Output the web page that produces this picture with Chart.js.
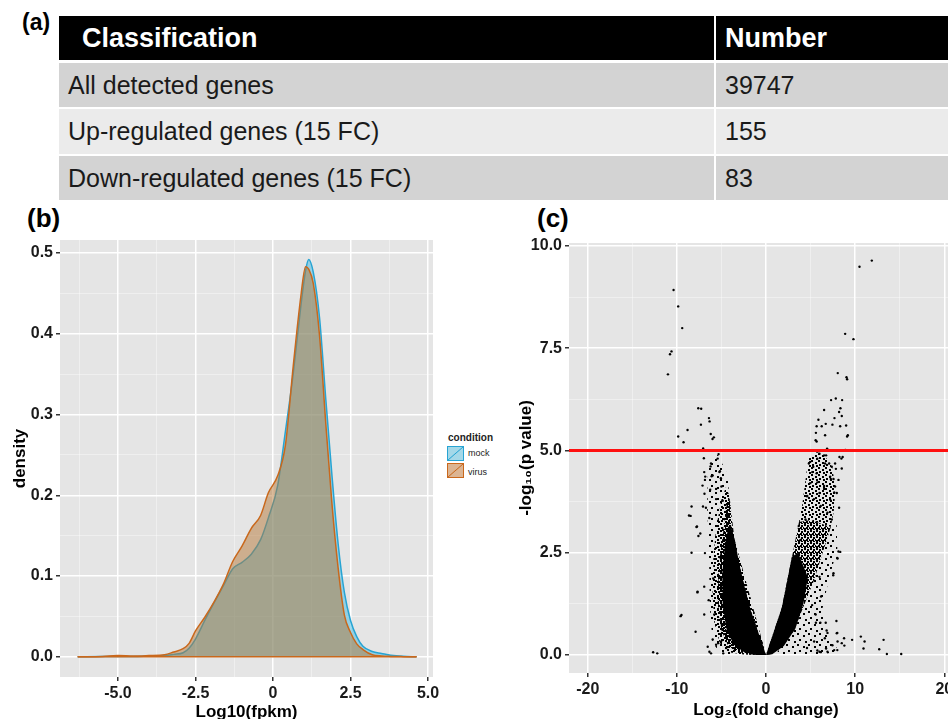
<!DOCTYPE html>
<html>
<head>
<meta charset="utf-8">
<script src="https://cdn.jsdelivr.net/npm/chart.js@4.4.1/dist/chart.umd.min.js"></script>
<style>
body { margin: 0; width: 948px; height: 719px; overflow: hidden; background: #fff; position: relative; font-family: "Liberation Sans", Arial, sans-serif; }
.abs { position: absolute; }
.panel-label { position: absolute; font-weight: bold; font-size: 26px; line-height: 26px; color: #000; }
.cell { position: absolute; box-sizing: border-box; display: flex; align-items: center; font-size: 25px; color: #1a1a1a; white-space: nowrap; }
.head { background: #000; color: #fff; font-weight: bold; font-size: 27px; }
.key { position: absolute; width: 17px; height: 15px; box-sizing: border-box; }
.legtxt { position: absolute; font-size: 9px; line-height: 10px; color: #222; }
</style>
</head>
<body>

<!-- (a) table -->
<div class="panel-label" style="left:22px;top:9px;font-size:23px;">(a)</div>
<div id="table"></div>

<!-- (b) density -->
<div class="panel-label" style="left:27px;top:205px;">(b)</div>
<canvas id="densityChart" class="abs" width="440" height="495" style="left:0;top:236px;"></canvas>
<div class="legtxt" style="left:448px;top:433px;font-weight:bold;font-size:10px;">condition</div>
<div class="key" style="left:447px;top:446px;border:1px solid #27a4d3;background:linear-gradient(to top left, transparent calc(50% - 0.8px), #27a4d3 50%, transparent calc(50% + 0.8px)), #a4d8e8;"></div>
<div class="legtxt" style="left:468px;top:448px;">mock</div>
<div class="key" style="left:447px;top:463px;border:1px solid #c9681c;background:linear-gradient(to top left, transparent calc(50% - 0.8px), #c9681c 50%, transparent calc(50% + 0.8px)), #dcb593;"></div>
<div class="legtxt" style="left:468px;top:467px;">virus</div>

<!-- (c) volcano -->
<div class="panel-label" style="left:537px;top:205px;">(c)</div>
<canvas id="volcanoChart" class="abs" width="458" height="495" style="left:510px;top:236px;"></canvas>

<script>
// ---- (a) table ----
const tableHeader = ["Classification", "Number"];
const tableRows = ["All detected genes", "Up-regulated genes (15 FC)", "Down-regulated genes (15 FC)"];
const tableNumbers = ["39747", "155", "83"];

// ---- (b) density of Log10(fpkm) ----
const densX = [-6.3, -5.5, -5, -4.5, -4, -3.5, -3.2, -2.9, -2.7, -2.5, -2.2, -1.9, -1.6, -1.3, -1.0, -0.7, -0.4, -0.15, 0.15, 0.4,
    0.65, 0.9, 1.05, 1.15, 1.3, 1.5, 1.7, 1.9, 2.1, 2.3, 2.5, 2.7, 2.9, 3.2, 3.5, 3.8, 4.2, 4.63];
const mockDensity = [0, 0.0003, 0.0005, 0.0005, 0.001, 0.0015, 0.003, 0.005, 0.011, 0.022, 0.045, 0.067, 0.088, 0.109, 0.117, 0.127, 0.145, 0.172, 0.212, 0.279,
    0.35, 0.435, 0.478, 0.492, 0.476, 0.42, 0.32, 0.225, 0.14, 0.08, 0.045, 0.025, 0.013, 0.0065, 0.0042, 0.002, 0.0006, 0];
const virusDensity = [0, 0.0005, 0.0015, 0.001, 0.0015, 0.0025, 0.006, 0.01, 0.017, 0.032, 0.049, 0.068, 0.09, 0.118, 0.137, 0.159, 0.175, 0.203, 0.224, 0.262,
    0.359, 0.447, 0.483, 0.48, 0.462, 0.398, 0.29, 0.19, 0.11, 0.052, 0.03, 0.016, 0.009, 0.0025, 0.001, 0.0005, 0.0002, 0];

// ---- (c) volcano: outlines of the crowded cloud (solid / dense / medium / sparse) + single genes ----
const leftCoreX = [0, -1.82, -2.77, -3.52, -3.9, -4.2, -4.6, -4.9, -4.85, -4.4, -3.6, -2.4, -1];
const leftCoreY = [0, 1.16, 1.99, 2.81, 3.13, 3.15, 2.7, 2.0, 1.2, 0.6, 0.25, 0.06, 0.01];
const leftDenseX = [0, -1.82, -2.77, -3.52, -3.85, -4.05, -4.4, -4.8, -5.3, -5.4, -5.0, -4.2, -2.5, -1];
const leftDenseY = [0, 1.16, 1.99, 2.81, 3.4, 3.8, 3.7, 3.0, 2.2, 1.3, 0.6, 0.2, 0.03, 0];
const leftMidX = [0, -3.9, -4.1, -4.5, -5.0, -5.6, -5.9, -6.0, -5.8, -5.2, -4.2, -2.5, -1];
const leftMidY = [0, 3.13, 3.9, 4.1, 3.8, 3.1, 2.4, 1.5, 0.8, 0.3, 0.07, 0.01, 0];
const leftSparseX = [0, -3.9, -4.3, -5.4, -6.5, -6.6, -6.4, -6.3, -6.0, -5, -3];
const leftSparseY = [0, 3.13, 4.4, 4.9, 4.6, 3.6, 2.6, 1.2, 0.3, 0.02, 0];
const rightCoreX = [0, 1.78, 2.54, 2.9, 3.6, 4.7, 4.2, 3.3, 2.0, 0.7];
const rightCoreY = [0, 1.16, 1.99, 2.4, 2.5, 1.9, 1.25, 0.65, 0.22, 0.02];
const rightDenseX = [0, 1.78, 2.54, 3.3, 3.7, 5.0, 7.27, 5.38, 3.1, 1.5, 0.5];
const rightDenseY = [0, 1.16, 1.99, 2.81, 3.25, 3.3, 3.13, 1.82, 0.58, 0.15, 0.02];
const rightMidX = [3.3, 4.05, 4.55, 4.8, 5.6, 6.5, 7.4, 7.8, 7.6, 7.27, 5.0, 3.7];
const rightMidY = [2.81, 3.64, 4.47, 4.8, 4.95, 4.9, 4.6, 4.1, 3.5, 3.13, 3.3, 3.25];
const rightSparseX = [1, 3.1, 5.38, 7.27, 7.9, 8.0, 7.0, 6.3, 6.8, 8.2, 6];
const rightSparseY = [0, 0.58, 1.82, 3.13, 3.4, 2.6, 1.8, 1.1, 0.5, 0.1, 0];

const volcanoX = [
    -10.37, -9.85, -9.4, -10.6, -10.77, -11.0, -7.6, -7.27, -6.4, -6.33, -7.3, -8.8, -9.85, -9.25, -6.2, -6.0, -5.85, -7.04, -6.0, -5.32,
    -6.97, -6.22, -5.17, -6.82, -6.1, -6.85, -5.06, -6.26, -5.0, -8.35, -8.46, -6.9, -7.07, -7.74, -7.37, -8.35, -6.85, -7.68, -6.93, -5.92,
    -6.43, -9.48, -7.9, -12.66, -12.2, -6.54, -5.98, -6.35, -5.36, -4.8, -8.64, -7.8, -7.58, -7.69, -9.58, -6.74, -6.36, -5.6, -4.85, -7.12,
    -5.98, -5.23, -5.6, -6.93, -6.17, -5.42, -7.05, -6.17, -5.6, -5.04, -4.47, -6.93, -5.8,
    11.87, 10.49, 8.88, 9.81, 8.05, 9.03, 9.1, 5.88, 6.52, 7.3, 7.83, 8.54, 8.35, 8.2, 7.68, 7.45, 6.7, 6.25, 5.68, 8.5,
    8.32, 8.99, 9.18, 9.1, 5.6, 5.68, 5.57, 6.63, 6.85, 7.0, 5.3, 5.77, 6.4, 8.9, 6.0, 6.74, 8.24, 8.46, 4.95, 6.63,
    7.75, 8.5, 7.38, 5.3, 5.68, 7.2, 7.57, 8.13, 4.95, 6.52, 7.75, 7.94, 6.0, 4.6, 7.2, 8.2, 7.38, 8.13, 7.98, 7.57,
    6.0, 6.18, 5.17, 7.9, 6.7, 5.6, 7.94, 6.8, 9.66, 10.64, 11.06, 10.94, 13.19, 12.7, 13.56, 15.17, 8.5, 8.76, 8.0, 7.45,
    6.74, 6.0, 8.33, 8.03, 7.54, 8.79, 8.03, 6.9, 8.0, 6.1, 6.6, 5.57, 5.4, 4.6, 6.9, 7.65, 6.14, 5.76, 4.81, 5.19,
    5.76, 6.52, 7.27, 7.65, 4.62, 6.14, 6.9, 4.43, 7.84, 8.6, 5.76, 6.52, 7.08, 5.38, 3.67, 3.86];
const volcanoY = [
    8.92, 8.52, 7.99, 7.42, 7.35, 6.86, 6.03, 6.02, 5.79, 5.71, 5.63, 5.5, 5.34, 5.2, 5.4, 5.28, 5.32, 5.01, 4.99, 4.91,
    4.81, 4.61, 4.49, 4.36, 4.37, 4.28, 4.32, 4.04, 4.12, 3.63, 3.4, 3.94, 3.63, 3.14, 2.97, 2.5, 2.49, 1.55, 1.67, 1.87,
    1.34, 0.98, 0.57, 0.066, 0.04, 0.2, 0.38, 0.08, 0.29, 0.04, 3.41, 3.13, 2.91, 1.53, 0.95, 3.6, 3.35, 3.81, 3.77, 4.14,
    4.39, 4.47, 4.06, 4.47, 4.68, 4.8, 5.05, 0.04, 0.25, 0.33, 0.17, 0.99, 0.99,
    9.64, 9.49, 7.85, 7.72, 6.89, 6.79, 6.74, 5.75, 5.99, 6.23, 6.27, 6.23, 6.03, 5.94, 5.79, 5.63, 5.65, 5.59, 5.59, 5.84,
    5.59, 5.61, 5.37, 5.34, 5.43, 5.22, 5.25, 5.37, 5.04, 5.01, 4.99, 4.97, 4.99, 5.01, 4.92, 4.88, 4.84, 4.8, 4.72, 4.68,
    4.68, 4.56, 4.6, 4.6, 4.44, 4.36, 4.3, 4.28, 4.2, 4.13, 4.12, 3.96, 3.96, 3.88, 3.8, 3.6, 3.31, 2.53, 2.37, 2.0,
    1.91, 1.43, 1.22, 0.83, 0.79, 0.79, 0.53, 0.6, 0.37, 0.45, 0.33, 0.16, 0.37, 0.14, 0.025, 0.025, 0.29, 0.41, 0.12, 0.24,
    0.16, 0.08, 2.52, 2.36, 1.95, 0.23, 0.33, 0.54, 0.54, 0.79, 0.41, 0.99, 0.33, 0.17, 0.08, 0.12, 0.07, 0.11, 4.68, 4.47,
    4.22, 4.06, 4.3, 3.97, 3.89, 3.64, 3.48, 3.31, 4.55, 4.84, 4.8, 4.88, 4.68, 3.81, 3.15, 2.81];
const pThreshold = 5;

// ---- table drawing ----
const table = document.getElementById('table');
function addCell(text, left, top, width, height, cls, bg, padLeft) {
    const d = document.createElement('div');
    d.className = 'cell ' + (cls || '');
    d.style.cssText += `left:${left}px;top:${top}px;width:${width}px;height:${height}px;padding-left:${padLeft}px;` + (bg ? `background:${bg};` : '');
    d.textContent = text;
    table.appendChild(d);
}
const rowTops = [63, 109, 156];
const rowHeights = [44, 45, 44];
const rowBg = ['#d3d3d3', '#ebebeb', '#d3d3d3'];
addCell(tableHeader[0], 59, 16, 655, 44, 'head', '#000', 23);
addCell(tableHeader[1], 716, 16, 232, 44, 'head', '#000', 9);
tableRows.forEach((r, i) => {
    addCell(r, 59, rowTops[i], 655, rowHeights[i], '', rowBg[i], 9);
    addCell(tableNumbers[i], 716, rowTops[i], 232, rowHeights[i], '', rowBg[i], 9);
});

// ---- shared ggplot look ----
const panelBg = {
    id: 'panelBg',
    beforeDraw(chart) {
        const { ctx, chartArea: a } = chart;
        ctx.save();
        ctx.fillStyle = '#e5e5e5';
        ctx.fillRect(a.left, a.top, a.right - a.left, a.bottom - a.top);
        ctx.restore();
    }
};
const isMajor = (v, step) => Math.abs(v / step - Math.round(v / step)) < 1e-6;

function ggAxis(min, max, minorStep, majorStep, fmt, title, fitSize, isX, titlePad) {
    return {
        type: 'linear', min, max,
        border: { display: false },
        grid: {
            color: c => isMajor(c.tick.value, majorStep) ? '#ffffff' : 'rgba(255,255,255,0.55)',
            lineWidth: c => isMajor(c.tick.value, majorStep) ? 1.5 : 0.7,
            tickColor: c => isMajor(c.tick.value, majorStep) ? '#333' : 'rgba(0,0,0,0)',
            tickLength: 4
        },
        ticks: {
            stepSize: minorStep, autoSkip: false, includeBounds: false, maxRotation: 0,
            color: '#1a1a1a', font: { size: 16, weight: 'bold', family: 'Liberation Sans' }, padding: 3,
            callback: v => isMajor(v, majorStep) ? fmt(v) : ''
        },
        title: { display: true, text: title, color: '#000', font: { size: 17, weight: 'bold', family: 'Liberation Sans' }, padding: titlePad },
        afterFit: s => {
            // fixed axis box, no extra padding from edge labels
            if (isX) s.height = fitSize; else s.width = fitSize;
            s.paddingTop = 0; s.paddingBottom = 0; s.paddingLeft = 0; s.paddingRight = 0;
        }
    };
}

// ---- (b) density chart ----
const toPts = (xs, ys) => xs.map((x, i) => ({ x, y: ys[i] }));
new Chart(document.getElementById('densityChart'), {
    type: 'scatter',
    data: {
        datasets: [
            { label: 'virus', data: toPts(densX, virusDensity), showLine: true, fill: 'origin', order: 1,
              borderColor: '#c9681c', backgroundColor: 'rgba(182,120,55,0.5)', borderWidth: 1.5, pointRadius: 0, cubicInterpolationMode: 'monotone' },
            { label: 'virus base', data: [{ x: densX[0], y: 0 }, { x: densX[densX.length - 1], y: 0 }], showLine: true, order: 0,
              borderColor: '#c9681c', borderWidth: 1.5, pointRadius: 0 },
            { label: 'mock', data: toPts(densX, mockDensity), showLine: true, fill: 'origin', order: 2,
              borderColor: '#27a4d3', backgroundColor: 'rgba(65,185,225,0.5)', borderWidth: 1.5, pointRadius: 0, cubicInterpolationMode: 'monotone' }
        ]
    },
    options: {
        responsive: false, animation: false,
        layout: { padding: { top: 4, right: 7, left: 0, bottom: 0 } },
        plugins: { legend: { display: false }, tooltip: { enabled: false } },
        scales: {
            x: ggAxis(-6.87, 5.16, 1.25, 2.5, v => v === 0 ? '0' : v.toFixed(1), 'Log10(fpkm)', 54, true, { top: 0, bottom: 8 }),
            y: ggAxis(-0.025, 0.516, 0.05, 0.1, v => v.toFixed(1), 'density', 60, false, { top: 10, bottom: 0 })
        }
    },
    plugins: [panelBg]
});

// ---- (c) volcano chart ----
// speckle fills for the crowded parts of the cloud
function speckle(size, dots) {
    const c = document.createElement('canvas');
    c.width = size; c.height = size;
    const g = c.getContext('2d');
    g.fillStyle = '#000';
    dots.forEach(([x, y]) => g.fillRect(x, y, 2, 2));
    return g.createPattern(c, 'repeat');
}
const densePattern = speckle(6, [[0, 0], [3, 1], [2, 3], [5, 3], [0, 4], [3, 5]]);
const midPattern = speckle(7, [[0, 0], [4, 2], [1, 4], [5, 5]]);
const sparsePattern = speckle(11, [[1, 1], [7, 3], [3, 7], [9, 9]]);

const polyStyle = (fillStyle) => ({ showLine: true, fill: 'shape', backgroundColor: fillStyle, borderColor: 'rgba(0,0,0,0)', borderWidth: 0, pointRadius: 0, tension: 0 });
new Chart(document.getElementById('volcanoChart'), {
    type: 'scatter',
    data: {
        datasets: [
            { label: 'threshold', data: [{ x: -22.1, y: pThreshold }, { x: 22.1, y: pThreshold }], showLine: true, order: 0,
              borderColor: '#ff1010', borderWidth: 3, pointRadius: 0 },
            { label: 'genes', data: toPts(volcanoX, volcanoY), order: 1, pointRadius: 1.2, pointBorderWidth: 0,
              backgroundColor: '#000', borderColor: '#000' },
            Object.assign({ label: 'left core', data: toPts(leftCoreX, leftCoreY), order: 2 }, polyStyle('#000')),
            Object.assign({ label: 'right core', data: toPts(rightCoreX, rightCoreY), order: 2 }, polyStyle('#000')),
            Object.assign({ label: 'left dense', data: toPts(leftDenseX, leftDenseY), order: 3 }, polyStyle(densePattern)),
            Object.assign({ label: 'right dense', data: toPts(rightDenseX, rightDenseY), order: 3 }, polyStyle(densePattern)),
            Object.assign({ label: 'left mid', data: toPts(leftMidX, leftMidY), order: 4 }, polyStyle(midPattern)),
            Object.assign({ label: 'right mid', data: toPts(rightMidX, rightMidY), order: 4 }, polyStyle(midPattern)),
            Object.assign({ label: 'left sparse', data: toPts(leftSparseX, leftSparseY), order: 5 }, polyStyle(sparsePattern)),
            Object.assign({ label: 'right sparse', data: toPts(rightSparseX, rightSparseY), order: 5 }, polyStyle(sparsePattern))
        ]
    },
    options: {
        responsive: false, animation: false,
        layout: { padding: { top: 7, right: 5, left: 0, bottom: 0 } },
        plugins: { legend: { display: false }, tooltip: { enabled: false } },
        scales: {
            x: ggAxis(-22.1, 22.1, 5, 10, v => String(v), 'Log\u2082(fold change)', 58, true, { top: 0, bottom: 10 }),
            y: ggAxis(-0.44, 10.07, 1.25, 2.5, v => v.toFixed(1), '-log\u2081\u2080(p value)', 59, false, { top: 6, bottom: 0 })
        }
    },
    plugins: [panelBg]
});
</script>
</body>
</html>
